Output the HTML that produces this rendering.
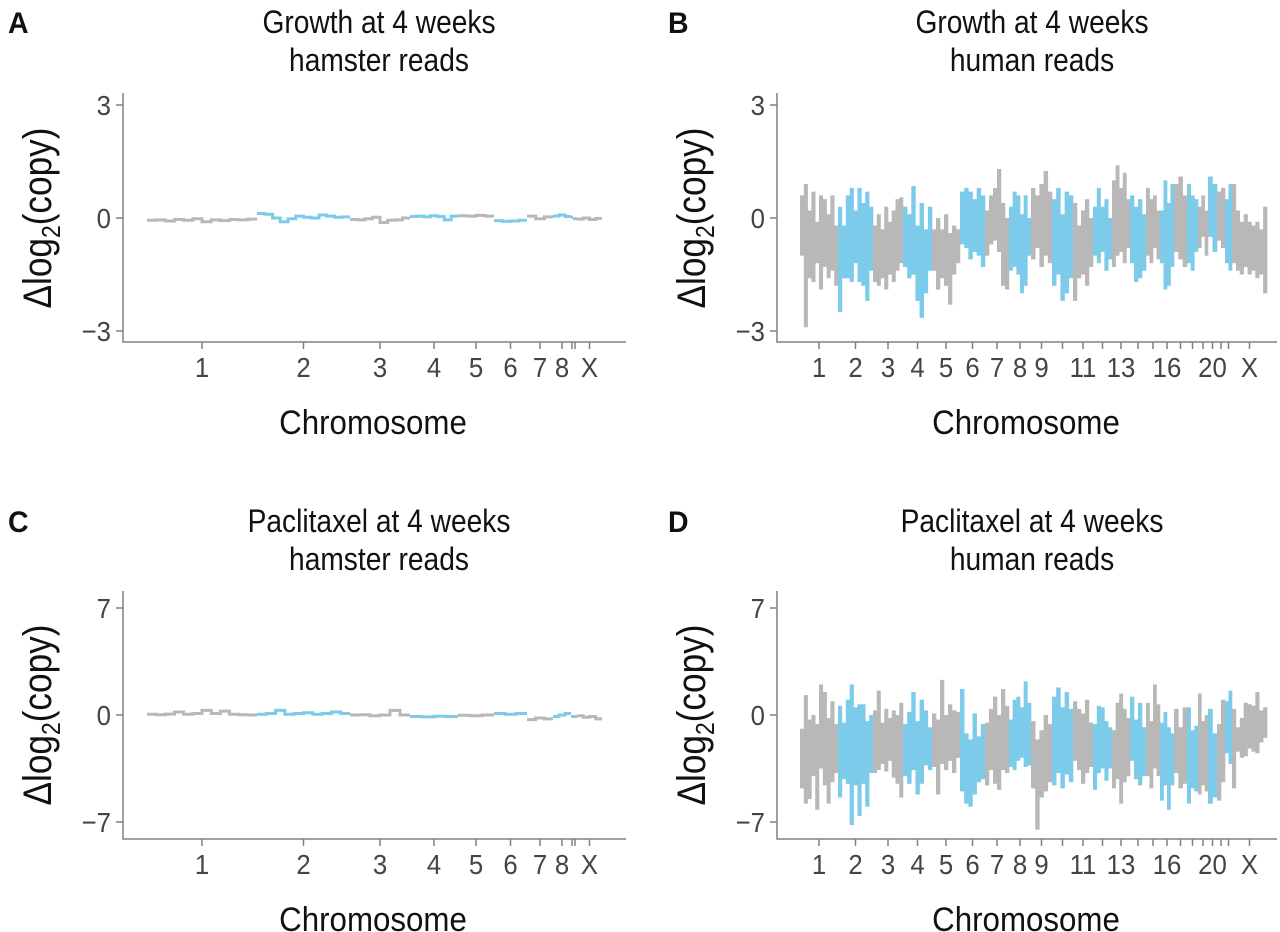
<!DOCTYPE html>
<html><head><meta charset="utf-8"><style>
body{margin:0;background:#fff;}
svg{display:block;font-family:"Liberation Sans",Arial,sans-serif;}
</style></head><body>
<svg id="fig" width="1280" height="932" viewBox="0 0 1280 932" xmlns="http://www.w3.org/2000/svg"></svg>
<script>
// ---------- DATA ----------
const hamsterLabels = ["1","2","3","4","5","6","7","8","","","X"];
const hamsterSizes = [110,93,60,48,36,33,26,18,2,4,25];
const humanLabels = ["1","2","3","4","5","6","7","8","9","","11","","13","","","16","","","","20","","","X"];
const humanSizes = [38,35,30,29,28,25,24,22,21,21,20,19,18,16,14,14,13,11,10,9,8,7,35];
const ticksA = [-3,0,3];
const ticksC = [-7,0,7];

const hamsterA = [
 [-0.06,-0.05,-0.08,-0.04,-0.06,-0.02,-0.1,-0.05,-0.07,-0.04,-0.05,-0.03],
 [0.12,0.1,0.0,-0.1,-0.02,0.05,0.02,0.0,0.08,0.05,0.02,0.03],
 [-0.04,-0.05,-0.02,0.02,-0.12,-0.06,-0.05,0.0],
 [0.04,0.05,0.03,0.06,0.04,-0.05,0.05],
 [0.06,0.05,0.07,0.05],
 [-0.07,-0.09,-0.08,-0.06],
 [0.05,-0.02,0.03],
 [0.05,0.08,0.04],
 [0.02],[-0.02],
 [-0.03,0.0,-0.04,-0.01]
];
const hamsterC = [
 [0.05,0.02,0.06,0.2,0.05,0.1,0.3,0.1,0.25,0.05,0.02,0.0],
 [0.05,0.1,0.3,0.05,0.1,0.15,0.05,0.1,0.2,0.1],
 [0.0,0.02,-0.05,0.0,0.3,0.0],
 [-0.1,-0.12,-0.08,-0.1],
 [-0.02,-0.05,0.0],
 [0.1,0.05,0.1],
 [-0.3,-0.2,-0.25],
 [-0.1,0.0,0.1],
 [-0.1],[-0.1],
 [-0.05,-0.15,-0.1,-0.25]
];
const hiB = [
 [0.6,0.9,0.2,0.7,-0.1,0.6,0.5,0.1,0.6,-0.2],
 [0.3,-0.2,0.6,0.8,0.2,0.8,0.4,0.7,0.3],
 [-0.2,0.1,-0.3,0.3,-0.1,0.2,0.5,0.55],
 [0.3,0.1,0.85,-0.2,0.4,-0.3,0.3],
 [-0.3,0.0,-0.3,0.1,-0.4,-0.2,-0.3],
 [0.7,0.8,0.7,0.5,0.8,0.6],
 [0.2,0.6,0.8,1.3,0.4,0.0],
 [0.3,0.7,0.6,0.1,0.6,0.0],
 [0.8,0.6,0.9,1.25,0.7],
 [0.5,0.8,0.1,0.7,0.6],
 [0.4,-0.2,0.2,0.5,0.0],
 [0.3,0.8,0.3,0.5,0.0],
 [1.0,1.4,0.8,1.2,0.5],
 [0.6,0.3,0.5,0.1],
 [0.8,0.5,0.6,0.2],
 [0.2,1.0,0.4,0.9],
 [0.9,1.1,0.6],
 [0.9,0.6,0.5],
 [0.3,0.6,0.2],
 [1.1,0.9],
 [0.7,0.8],
 [0.5,0.9],
 [0.9,0.2,-0.1,0.1,-0.1,-0.2,-0.1,-0.3,0.3]
];
const loB = [
 [-1.0,-2.9,-1.6,-1.7,-1.2,-1.9,-1.3,-1.6,-1.4,-1.8],
 [-2.5,-1.6,-1.6,-1.7,-1.2,-1.7,-1.8,-2.2,-1.4],
 [-1.7,-1.8,-1.6,-1.9,-1.5,-1.7,-1.4,-1.2],
 [-1.3,-1.6,-1.5,-2.2,-2.65,-2.0,-1.4],
 [-1.4,-1.9,-1.6,-1.8,-2.3,-1.5,-1.2],
 [-0.7,-0.8,-1.1,-0.9,-1.0,-1.3],
 [-1.0,-0.7,-0.6,-0.9,-1.8,-1.9],
 [-1.4,-1.3,-1.5,-2.0,-1.8,-1.0],
 [-1.1,-0.8,-1.3,-1.0,-1.2],
 [-1.8,-1.5,-2.2,-2.0,-1.6],
 [-2.2,-1.6,-1.5,-1.8,-1.3],
 [-1.0,-1.2,-0.9,-1.4,-1.1],
 [-1.3,-1.0,-0.9,-1.2,-0.8],
 [-1.2,-1.7,-1.6,-1.4],
 [-1.0,-1.2,-0.8,-1.1],
 [-1.2,-1.9,-1.8,-1.3],
 [-0.9,-1.1,-1.3],
 [-1.2,-1.4,-0.9],
 [-0.8,-0.5,-1.0],
 [-0.5,-0.9],
 [-0.6,-0.8],
 [-1.2,-1.4],
 [-1.2,-1.4,-1.5,-1.3,-1.5,-1.4,-1.6,-1.5,-2.0]
];
const hiD = [
 [-0.9,1.3,-0.3,0.0,-0.6,2.0,1.5,-0.2,0.9,-0.6],
 [0.6,-0.5,1.0,2.0,0.5,0.7,0.7,-0.4,0.0],
 [0.3,1.6,-0.5,0.4,-0.2,0.3,0.0,0.8],
 [-0.6,0.2,1.5,-0.4,1.0,0.3,-0.8],
 [0.1,-0.3,2.3,0.0,0.7,0.3,0.2],
 [1.7,-1.2,-1.6,0.1,-1.4,-0.6],
 [-0.5,0.4,1.2,0.0,1.7,0.6],
 [-0.3,1.0,1.2,0.5,2.2,0.8],
 [-0.4,-1.6,-1.0,0.0,-0.6],
 [1.2,1.8,0.5,1.5,0.4],
 [0.9,0.4,0.1,1.0,-0.5],
 [-0.6,0.6,0.5,-0.4,-0.8],
 [-1.0,0.8,1.4,0.4,-0.2],
 [1.2,-0.3,0.8,-0.8],
 [0.8,-0.4,2.0,0.7],
 [-0.5,0.2,-0.8,-1.2],
 [0.4,-0.8,0.5],
 [0.5,-1.0,-0.7],
 [1.4,-0.4,0.0],
 [0.4,-1.2],
 [-0.6,1.0],
 [0.9,1.6],
 [0.4,-0.8,-0.2,0.8,0.7,0.6,1.5,0.3,0.5]
];
const loD = [
 [-4.8,-5.8,-5.5,-4.0,-6.2,-3.5,-4.6,-5.8,-4.4,-3.8],
 [-5.4,-4.2,-4.5,-7.2,-4.6,-6.6,-4.5,-6.0,-3.8],
 [-3.8,-3.6,-3.2,-3.7,-3.0,-4.1,-4.5,-5.4],
 [-4.0,-4.5,-3.6,-5.2,-4.5,-3.3,-3.6],
 [-3.4,-5.2,-3.2,-3.6,-3.0,-3.8,-2.8],
 [-5.0,-5.8,-6.0,-5.2,-4.4,-4.2],
 [-4.6,-3.6,-4.5,-4.9,-3.6,-3.8],
 [-3.4,-3.6,-3.0,-2.8,-3.4,-3.3],
 [-4.8,-7.5,-5.4,-5.0,-4.4],
 [-4.6,-3.8,-4.8,-3.9,-4.4],
 [-3.0,-3.6,-4.5,-3.8,-3.4],
 [-4.9,-3.8,-3.5,-4.3,-3.5],
 [-4.8,-4.2,-5.8,-4.4,-4.0],
 [-3.0,-4.2,-4.6,-4.0],
 [-4.0,-4.8,-3.5,-4.0],
 [-5.6,-4.6,-6.2,-4.6],
 [-3.8,-4.8,-4.5],
 [-5.8,-4.8,-5.0],
 [-5.2,-4.6,-5.0],
 [-5.8,-5.4],
 [-5.6,-4.4],
 [-2.5,-3.2],
 [-4.8,-2.4,-2.8,-2.7,-2.2,-2.4,-2.5,-1.8,-1.5]
];

// ---------- DRAW ----------
const NS="http://www.w3.org/2000/svg";
const svg=document.getElementById('fig');
const GRAY="#b8b8b8", BLUE="#7ccbea";
function el(tag,attrs,parent){const e=document.createElementNS(NS,tag);for(const k in attrs)e.setAttribute(k,attrs[k]);(parent||svg).appendChild(e);return e;}
function txt(parent,x,y,size,anchor,fill,sx,str,weight,rot){
  const t=el('text',{x:0,y:0,'font-size':size,'text-anchor':anchor,fill:fill,
    transform:`translate(${x},${y})`+(rot?` rotate(${rot})`:'')+` scale(${sx},1)`},parent);
  if(weight)t.setAttribute('font-weight',weight);
  t.textContent=str;return t;
}

function panel(cfg){
  const g=el('g',{});
  
  
  const L=cfg.left,T=cfg.top,B=cfg.bottom,R=cfg.right;
  const dataL=cfg.dataL,dataR=cfg.dataR;
  const total=cfg.sizes.reduce((a,b)=>a+b,0);
  const xs=v=>dataL+(v/total)*(dataR-dataL);
  const ymax=cfg.ticks[cfg.ticks.length-1];
  const ys=v=>cfg.zeroY-(v/ymax)*(cfg.zeroY-cfg.topTickY);
  const lt=txt(g,cfg.letterX,cfg.titleY1+11,30,'start','#111',0.95,cfg.letter,'bold');
  
  
  const t1=txt(g,cfg.titleX,cfg.titleY1+11,32,'middle','#111',0.88,cfg.title1);
  
  
  const t2=txt(g,cfg.titleX,cfg.titleY1+49,32,'middle','#111',0.88,cfg.title2);
  
  
  if(cfg.ylabel){
    const yl=el('text',{x:0,y:0,'font-size':40,'text-anchor':'middle',fill:'#111',transform:`translate(${L-72},${cfg.zeroY}) rotate(-90) scale(0.88,1)`},g);
    yl.innerHTML='Δlog<tspan font-size="26" dy="9">2</tspan><tspan dy="-9">(copy)</tspan>';
    
    
  }
  const ax=el('path',{d:`M${L},${T}V${B}H${R}`,stroke:'#808080','stroke-width':1.5,fill:'none'},g);
  
  
  cfg.ticks.forEach(v=>{
    const y=ys(v);
    el('line',{x1:L-7,x2:L,y1:y,y2:y,stroke:'#808080','stroke-width':1.5},g);
    const tx=txt(g,L-12,y+10,28,'end','#444',0.92,v<0?'−'+Math.abs(v):String(v));
    
    
  });
  let acc=0;
  cfg.sizes.forEach((s,i)=>{
    const cx=xs(acc+s/2);
    el('line',{x1:cx,x2:cx,y1:B,y2:B+7,stroke:'#808080','stroke-width':1.5},g);
    if(cfg.labels[i]){
      const tl=txt(g,cx,B+35,28,'middle','#444',0.92,cfg.labels[i]);
      
      
    }
    const col=(i%2===0)?GRAY:BLUE;
    const x0=xs(acc),x1=xs(acc+s);
    if(cfg.line){
      const vals=cfg.line[i];const w=(x1-x0)/vals.length;
      let d='';
      vals.forEach((v,j)=>{const y=ys(v);d+=(j===0?'M':'L')+(x0+j*w)+','+y+'H'+(x0+(j+1)*w);});
      const p=el('path',{d:d,stroke:col,'stroke-width':3,fill:'none'},g);
      
      
    } else {
      const hi=cfg.hi[i],lo=cfg.lo[i];const w=(x1-x0)/hi.length;
      hi.forEach((h,j)=>{
        const yt=ys(h),yb=ys(lo[j]);
        const r=el('rect',{x:x0+j*w,y:yt,width:w+0.3,height:yb-yt,fill:col},g);
        
        
      });
    }
    acc+=s;
  });
  const xt=txt(g,cfg.titleX-6,B+92,34,'middle','#111',0.92,'Chromosome');
  
  
}

panel({name:'panel-a-growth-hamster',letter:'A',letterX:8,title1:'Growth at 4 weeks',title2:'hamster reads',titleX:379,titleY1:22,
 left:123,right:626,top:93,bottom:342,zeroY:218,topTickY:105,ticks:ticksA,ylabel:true,
 dataL:147,dataR:602,sizes:hamsterSizes,labels:hamsterLabels,line:hamsterA});
panel({name:'panel-b-growth-human',letter:'B',letterX:668,title1:'Growth at 4 weeks',title2:'human reads',titleX:1032,titleY1:22,
 left:777,right:1277,top:93,bottom:342,zeroY:218,topTickY:105,ticks:ticksA,ylabel:true,
 dataL:800,dataR:1267,sizes:humanSizes,labels:humanLabels,hi:hiB,lo:loB});
panel({name:'panel-c-paclitaxel-hamster',letter:'C',letterX:8,title1:'Paclitaxel at 4 weeks',title2:'hamster reads',titleX:379,titleY1:521,
 left:123,right:626,top:591,bottom:839,zeroY:715,topTickY:608,ticks:ticksC,ylabel:true,
 dataL:147,dataR:602,sizes:hamsterSizes,labels:hamsterLabels,line:hamsterC});
panel({name:'panel-d-paclitaxel-human',letter:'D',letterX:668,title1:'Paclitaxel at 4 weeks',title2:'human reads',titleX:1032,titleY1:521,
 left:777,right:1277,top:591,bottom:839,zeroY:715,topTickY:608,ticks:ticksC,ylabel:true,
 dataL:800,dataR:1267,sizes:humanSizes,labels:humanLabels,hi:hiD,lo:loD});
</script>
</body></html>
